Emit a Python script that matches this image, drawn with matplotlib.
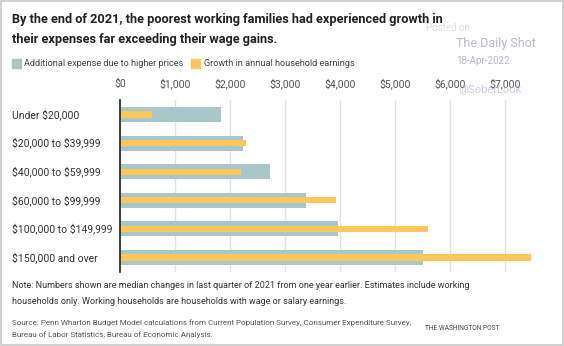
import numpy as np
from matplotlib import pyplot as plt
from matplotlib.patches import Rectangle
from matplotlib.transforms import blended_transform_factory

plt.rcParams['font.family'] = ['Roboto', 'DejaVu Sans']
plt.rcParams['text.parse_math'] = False

# income groups and median changes (dollars)
groups   = ['Under $20,000', '$20,000 to $39,999', '$40,000 to $59,999',
            '$60,000 to $99,999', '$100,000 to $149,999', '$150,000 and over']
expense  = [1830, 2230, 2730, 3380, 3960, 5510]
earnings = [580, 2290, 2200, 3920, 5600, 7470]
ticks    = [0, 1000, 2000, 3000, 4000, 5000, 6000, 7000]
tick_txt = ['$0', '$1,000', '$2,000', '$3,000', '$4,000', '$5,000', '$6,000', '$7,000']

teal   = '#a9c6c9'
orange = '#fdc75a'

W, H = 564, 346


def fx(px):
    return px / W


def fy(py):
    return 1 - py / H


fig = plt.figure(figsize=(5.64, 3.46), dpi=100)
fig.patches.append(Rectangle((0.002, 0.003), 0.996, 0.994, transform=fig.transFigure,
                             fill=False, edgecolor='#c8c8c8', linewidth=1.2))

ax = fig.add_axes([fx(120), fy(272), 412.5 / W, 172 / H])
y = np.arange(len(groups))
ax.barh(y, expense, height=0.52, color=teal, zorder=2)
ax.barh(y, earnings, height=0.21, color=orange, zorder=3)

ax.set_xlim(0, 7500)
ax.set_ylim(len(groups) - 0.493, -0.507)
ax.set_xticks(ticks)
ax.set_xticklabels(tick_txt)
ax.xaxis.tick_top()
ax.tick_params(axis='x', length=0, pad=8, labelsize=7.6, labelcolor='#555555')
ax.set_yticks([])
ax.grid(axis='x', color='#e2e2e2', linewidth=1, zorder=0)
for s in ['top', 'right', 'bottom']:
    ax.spines[s].set_visible(False)
ax.spines['left'].set_color('#222222')
ax.spines['left'].set_linewidth(1.2)
ax.spines['left'].set_zorder(4)

# category labels, left aligned at the figure edge
lab_tr = blended_transform_factory(fig.transFigure, ax.transData)
for i, g in enumerate(groups):
    fig.text(fx(12), i, g, transform=lab_tr, fontsize=7.5, color='#333333',
             va='center', ha='left')

# title
fig.text(fx(12), fy(19), 'By the end of 2021, the poorest working families had experienced growth in',
         fontsize=9.2, fontweight='bold', color='#222222', va='center')
fig.text(fx(12), fy(40), 'their expenses far exceeding their wage gains.',
         fontsize=9.2, fontweight='bold', color='#222222', va='center')

# legend
fig.patches.append(Rectangle((fx(12), fy(68)), 9 / W, 9 / H, transform=fig.transFigure,
                             color=teal))
fig.text(fx(24), fy(63.5), 'Additional expense due to higher prices', fontsize=6.6,
         color='#444444', va='center')
fig.patches.append(Rectangle((fx(191), fy(68)), 9 / W, 9 / H, transform=fig.transFigure,
                             color=orange))
fig.text(fx(204), fy(63.5), 'Growth in annual household earnings', fontsize=6.6,
         color='#444444', va='center')

# notes
fig.text(fx(12), fy(285),
         'Note: Numbers shown are median changes in last quarter of 2021 from one year earlier. Estimates include working',
         fontsize=6.5, color='#333333', va='center')
fig.text(fx(12), fy(302),
         'households only. Working households are households with wage or salary earnings.',
         fontsize=6.5, color='#333333', va='center')
fig.text(fx(12), fy(323),
         'Source: Penn Wharton Budget Model calculations from Current Population Survey, Consumer Expenditure Survey,',
         fontsize=5.75, color='#555555', va='center')
fig.text(fx(12), fy(335),
         'Bureau of Labor Statistics, Bureau of Economic Analysis.',
         fontsize=5.75, color='#555555', va='center')
fig.text(fx(499), fy(328), 'THE WASHINGTON POST', fontsize=4.8, color='#444444',
         va='center', ha='right')

# watermark
wm = '#b8b8d4'
fig.text(fx(426), fy(28), 'Posted on', fontsize=7, color=wm, va='center', alpha=0.5)
fig.text(fx(456), fy(43), 'The Daily Shot', fontsize=9, color=wm, va='center')
fig.text(fx(456), fy(61), '18-Apr-2022', fontsize=7, color=wm, va='center')
fig.text(fx(458), fy(90), '@SoberLook', fontsize=8, color=wm, va='center', alpha=0.7)

fig.savefig('out.png', dpi=100)
